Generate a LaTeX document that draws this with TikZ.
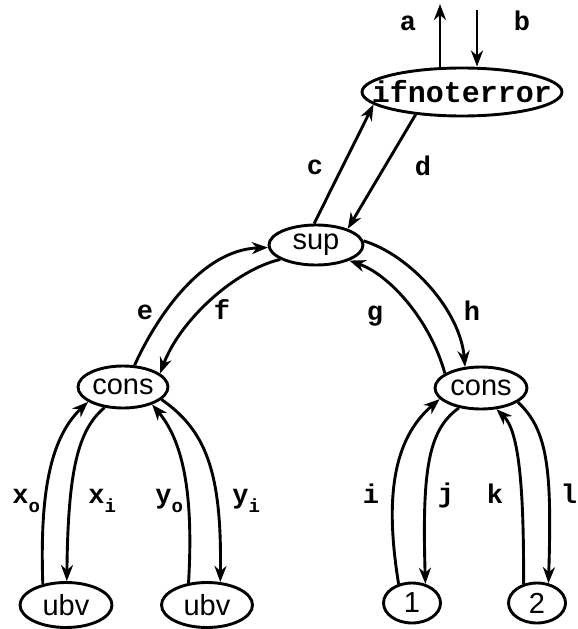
\documentclass[tikz,border=0pt]{standalone}
\usepackage{fontspec}
\setmainfont{Liberation Sans}
\newfontfamily\monof{Liberation Mono}
\usetikzlibrary{arrows.meta,shapes.geometric}
\newcommand\subsc[1]{\raisebox{-9pt}{\fontsize{19}{19}\selectfont #1}}
\begin{document}
\begin{tikzpicture}[x=1pt,y=-1pt,
  line width=2.9pt,
  nd/.style={draw, ellipse, inner sep=0pt},
  ndtext/.style={font=\fontsize{29}{29}\selectfont, inner sep=0pt},
  lbl/.style={font=\monof\bfseries\fontsize{27}{27}\selectfont, inner sep=0pt},
  arr/.style={-{Stealth[length=16pt,width=12pt,inset=5pt]}},
]
\useasboundingbox (0,0) rectangle (578,629);
% nodes
\node[nd, minimum width=200pt, minimum height=48pt,
  label={[lbl, font=\monof\bfseries\fontsize{30}{30}\selectfont]center:ifnoterror}] (ifn) at (462,92) {};
\node[nd, minimum width=94pt, minimum height=40pt,
  label={[ndtext]center:sup}] (sup) at (316,245) {};
\node[nd, minimum width=90pt, minimum height=42pt,
  label={[ndtext]center:cons}] (consL) at (123,387) {};
\node[nd, minimum width=92pt, minimum height=42pt,
  label={[ndtext]center:cons}] (consR) at (481,388) {};
\node[nd, minimum width=92pt, minimum height=45pt,
  label={[ndtext]center:ubv}] (ubvL) at (66,605) {};
\node[nd, minimum width=91pt, minimum height=45pt,
  label={[ndtext]center:ubv}] (ubvR) at (207,605) {};
\node[nd, minimum width=57pt, minimum height=40pt,
  label={[ndtext]center:1}] (one) at (412,603) {};
\node[nd, minimum width=57pt, minimum height=40pt,
  label={[ndtext]center:2}] (two) at (537,603) {};
% free ends
\coordinate (aT) at (440,4);
\coordinate (bT) at (477,10);
% connectors
\draw[arr] (ifn.north -| aT) -- (aT);
\draw[arr] (bT) -- (ifn.north -| bT);
\draw[arr] (sup.95) -- (ifn.188);
\draw[arr] (ifn.206) -- (sup.27);
\draw[arr] (consL.62) .. controls (155,320) and (200,250) .. (sup.183);
\draw[arr] (sup.202) .. controls (235,270) and (180,320) .. (consL.20);
\draw[arr] (consR.158) .. controls (430,320) and (390,275) .. (sup.335);
\draw[arr] (sup.5) .. controls (410,255) and (460,310) .. (consR.127);
\draw[arr] (ubvL.138) .. controls (40,500) and (48,440) .. (consL.203);
\draw[arr] (consL.228) .. controls (78,430) and (68,470) .. (ubvL.88);
\draw[arr] (ubvR.130) .. controls (194,490) and (182,440) .. (consL.329);
\draw[arr] (consL.342) .. controls (205,430) and (222,470) .. (ubvR.60);
\draw[arr] (one.125) .. controls (385,500) and (392,440) .. (consR.195);
\draw[arr] (consR.222) .. controls (428,430) and (422,470) .. (one.55);
\draw[arr] (two.125) .. controls (524,480) and (518,430) .. (consR.306);
\draw[arr] (consR.339) .. controls (548,430) and (552,470) .. (two.60);
% labels
\node[lbl] (la) at (408,23) {a};
\node[lbl] (lb) at (522,21) {b};
\node[lbl] (lc) at (315,167) {c};
\node[lbl] (ld) at (423,166) {d};
\node[lbl] (le) at (145,312) {e};
\node[lbl] (lf) at (222,310) {f};
\node[lbl] (lg) at (375,316) {g};
\node[lbl] (lh) at (472,311) {h};
\node[lbl, anchor=base west] (lxo) at (11,503) {x\subsc{o}};
\node[lbl, anchor=base west] (lxi) at (87,503) {x\subsc{i}};
\node[lbl, anchor=base west] (lyo) at (154,503) {y\subsc{o}};
\node[lbl, anchor=base west] (lyi) at (231,503) {y\subsc{i}};
\node[lbl] (li) at (371,494) {i};
\node[lbl] (lj) at (446,496) {j};
\node[lbl] (lk) at (495,494) {k};
\node[lbl] (ll) at (569,494) {l};
\end{tikzpicture}
\end{document}
